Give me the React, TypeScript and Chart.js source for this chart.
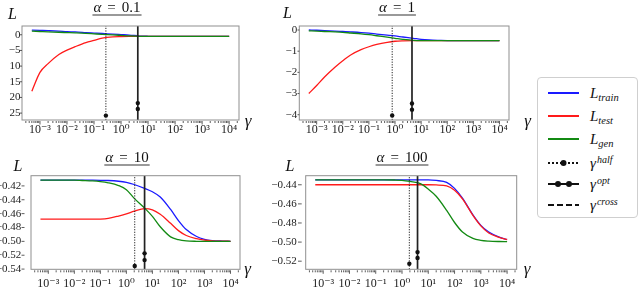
import React, { useEffect, useRef } from "react";
import { Chart, registerables } from "chart.js";
Chart.register(...registerables);

// ---------- data ----------
const gammas = [5e-4, 1e-3, 2e-3, 5e-3, 1e-2, 2e-2, 5e-2, 0.1, 0.2, 0.5, 1, 2, 5, 10, 20, 50, 100, 200, 500, 1000, 2000, 5000, 10000];

const train1 = [1.5, 1.4, 1.3, 1.15, 1.0, 0.9, 0.7, 0.55, 0.4, 0.2, 0.05, -0.1, -0.4, -0.48, -0.5, -0.5, -0.5, -0.5, -0.5, -0.5, -0.5, -0.5, -0.5];
const test1 = [-18.0, -12.0, -9.2, -6.3, -4.9, -3.8, -2.5, -1.8, -1.1, -0.7, -0.6, -0.54, -0.51, -0.5, -0.5, -0.5, -0.5, -0.5, -0.5, -0.5, -0.5, -0.5, -0.5];
const gen1 = [1.15, 1.05, 0.95, 0.8, 0.7, 0.6, 0.45, 0.3, 0.15, -0.05, -0.2, -0.35, -0.48, -0.5, -0.5, -0.5, -0.5, -0.5, -0.5, -0.5, -0.5, -0.5, -0.5];

const train2 = [0.0, -0.01, -0.03, -0.05, -0.07, -0.09, -0.12, -0.15, -0.19, -0.24, -0.28, -0.33, -0.39, -0.44, -0.47, -0.49, -0.5, -0.5, -0.5, -0.5, -0.5, -0.5, -0.5];
const test2 = [-3.0, -2.62, -2.22, -1.76, -1.45, -1.18, -0.93, -0.79, -0.68, -0.58, -0.53, -0.51, -0.5, -0.5, -0.5, -0.5, -0.5, -0.5, -0.5, -0.5, -0.5, -0.5, -0.5];
const gen2 = [-0.04, -0.05, -0.07, -0.09, -0.11, -0.14, -0.18, -0.22, -0.27, -0.34, -0.39, -0.44, -0.49, -0.5, -0.5, -0.5, -0.5, -0.5, -0.5, -0.5, -0.5, -0.5, -0.5];

const train3 = [-0.4118, -0.4118, -0.4118, -0.4118, -0.4118, -0.4118, -0.4118, -0.4119, -0.4122, -0.4133, -0.415, -0.418, -0.4235, -0.4285, -0.436, -0.454, -0.47, -0.483, -0.493, -0.497, -0.4988, -0.4996, -0.4999];
const test3 = [-0.468, -0.468, -0.468, -0.468, -0.468, -0.468, -0.468, -0.4678, -0.4668, -0.4635, -0.4605, -0.4565, -0.4528, -0.4545, -0.461, -0.474, -0.4845, -0.4915, -0.4962, -0.4982, -0.4992, -0.4997, -0.4999];
const gen3 = [-0.4118, -0.4118, -0.4118, -0.4118, -0.4118, -0.4122, -0.4128, -0.4138, -0.4155, -0.4195, -0.4255, -0.438, -0.452, -0.464, -0.479, -0.4935, -0.4975, -0.4993, -0.4999, -0.5, -0.5, -0.5, -0.5];

const train4 = [-0.4349, -0.4349, -0.4349, -0.4349, -0.4349, -0.4349, -0.4349, -0.4349, -0.4349, -0.4349, -0.4349, -0.4349, -0.4349, -0.4349, -0.4355, -0.4375, -0.4438, -0.454, -0.4715, -0.4825, -0.4895, -0.4948, -0.4973];
const test4 = [-0.44, -0.44, -0.44, -0.44, -0.44, -0.44, -0.44, -0.44, -0.44, -0.44, -0.44, -0.44, -0.44, -0.44, -0.4402, -0.4412, -0.4458, -0.4548, -0.472, -0.483, -0.4905, -0.495, -0.4973];
const gen4 = [-0.4349, -0.4349, -0.4349, -0.4349, -0.4349, -0.4349, -0.4349, -0.4349, -0.4349, -0.435, -0.4353, -0.4365, -0.4388, -0.4445, -0.452, -0.4668, -0.4795, -0.4895, -0.4962, -0.4982, -0.499, -0.4994, -0.4995];

const alphaLabels = ["0.1", "1", "10", "100"];
const halfGamma = [0.275, 0.78, 2.09, 1.9];
const halfDot = [-25.8, -4.04, -0.5355, -0.5227];
const optGamma = [4.17, 4.47, 5.0, 3.9];
const optDotHi = [-21.8, -3.47, -0.5173, -0.5105];
const optDotLo = [-23.7, -3.76, -0.527, -0.5166];

const yMins = [-27.2, -4.25, -0.5403, -0.5285];
const yMaxs = [2.8, 0.19, -0.4053, -0.4305];
const yTicks1 = [0, -5, -10, -15, -20, -25];
const yLabels1 = ["0", "\u22125", "10", "15", "20", "25"];
const yTicks2 = [0, -1, -2, -3, -4];
const yLabels2 = ["0", "\u22121", "\u22122", "\u22123", "\u22124"];
const yTicks3 = [-0.42, -0.44, -0.46, -0.48, -0.5, -0.52, -0.54];
const yLabels3 = ["\u22120.42", "\u22120.44", "\u22120.46", "\u22120.48", "\u22120.50", "\u22120.52", "\u22120.54"];
const yTicks4 = [-0.44, -0.46, -0.48, -0.5, -0.52];
const yLabels4 = ["\u22120.44", "\u22120.46", "\u22120.48", "\u22120.50", "\u22120.52"];

const xTickValues = [1e-3, 1e-2, 1e-1, 1, 10, 100, 1000, 10000];
const xTickLabels = ["10\u207B\u00B3", "10\u207B\u00B2", "10\u207B\u00B9", "10\u2070", "10\u00B9", "10\u00B2", "10\u00B3", "10\u2074"];
const xMin = 2.163e-4;
const xMax = 23174;

// ---------- layout ----------
const W = 640;
const H = 308;
const SERIF = "'Liberation Serif', 'DejaVu Serif', serif";

type Panel = {
  train: number[]; test: number[]; gen: number[];
  yTicks: number[]; yLabels: string[];
  box: [number, number, number, number];
  labelRight: number; tick: [number, number];
  xPad: number;
  title: [number, number]; underY: number;
  lPos: [number, number]; gPos: [number, number];
};

const panels: Panel[] = [
  { train: train1, test: test1, gen: gen1, yTicks: yTicks1, yLabels: yLabels1,
    box: [22, 26, 239, 120], labelRight: 20.5, tick: [19.5, 22], xPad: 3,
    title: [117, 8], underY: 15, lPos: [12.5, 15], gPos: [248, 121.5] },
  { train: train2, test: test2, gen: gen2, yTicks: yTicks2, yLabels: yLabels2,
    box: [299.3, 26, 509, 120], labelRight: 297.3, tick: [297.5, 299.3], xPad: 3,
    title: [397, 8], underY: 15, lPos: [287.5, 14], gPos: [527.5, 122] },
  { train: train3, test: test3, gen: gen3, yTicks: yTicks3, yLabels: yLabels3,
    box: [31, 175.7, 240, 269.3], labelRight: 21.3, tick: [21.5, 24.5], xPad: 7,
    title: [127, 158], underY: 165, lPos: [18, 167], gPos: [247.5, 270] },
  { train: train4, test: test4, gen: gen4, yTicks: yTicks4, yLabels: yLabels4,
    box: [305.7, 175.7, 516.7, 269.3], labelRight: 296.7, tick: [298, 301.7], xPad: 7,
    title: [402, 158], underY: 165, lPos: [290, 167], gPos: [527, 270] },
];

function drawTitle(ctx: CanvasRenderingContext2D, cx: number, cy: number, uy: number, value: string) {
  const fi = `italic 15px ${SERIF}`;
  const fr = `15px ${SERIF}`;
  const parts = [{ t: "\u03B1", f: fi }, { t: "=", f: fr }, { t: value, f: fr }];
  const gap = 6;
  const ws = parts.map((p) => { ctx.font = p.f; return ctx.measureText(p.t).width; });
  const total = ws.reduce((a, b) => a + b, 0) + gap * 2;
  let x = cx - total / 2;
  ctx.fillStyle = "#111";
  ctx.textBaseline = "middle";
  ctx.textAlign = "left";
  parts.forEach((p, i) => {
    ctx.font = p.f;
    ctx.fillText(p.t, x, cy);
    x += ws[i] + gap;
  });
  ctx.strokeStyle = "#777";
  ctx.lineWidth = 1.6;
  ctx.beginPath();
  ctx.moveTo(cx - total / 2 - 1, uy);
  ctx.lineTo(cx + total / 2 + 1, uy);
  ctx.stroke();
}

function makeConfig(p: Panel, i: number): any {
  const yw = Math.min(p.box[0], 40);
  const xh = 26;
  const yMin = yMins[i];
  const yMax = yMaxs[i];
  const decor = {
    id: "decor" + i,
    afterDatasetsDraw(chart: any) {
      const ctx: CanvasRenderingContext2D = chart.ctx;
      const a = chart.chartArea;
      const xs = chart.scales.x;
      const ys = chart.scales.y;
      ctx.save();
      ctx.strokeStyle = "#8f8f8f";
      ctx.lineWidth = 1;
      ctx.strokeRect(a.left, a.top, a.right - a.left, a.bottom - a.top);
      // y ticks
      ctx.strokeStyle = "#333";
      ctx.lineWidth = 0.8;
      p.yTicks.forEach((v) => {
        const py = ys.getPixelForValue(v);
        ctx.beginPath();
        ctx.moveTo(p.tick[0], py);
        ctx.lineTo(p.tick[1], py);
        ctx.stroke();
      });
      // x ticks (major + minor)
      for (let k = -4; k <= 4; k++) {
        for (let m = 1; m <= 9; m++) {
          const v = m * Math.pow(10, k);
          if (v < xMin || v > xMax) continue;
          const px = xs.getPixelForValue(v);
          ctx.beginPath();
          ctx.moveTo(px, a.bottom + 1);
          ctx.lineTo(px, a.bottom + (m === 1 ? 4.5 : 3));
          ctx.stroke();
        }
      }
      ctx.restore();
    },
    afterDraw(chart: any) {
      const ctx: CanvasRenderingContext2D = chart.ctx;
      ctx.save();
      drawTitle(ctx, p.title[0], p.title[1], p.underY, alphaLabels[i]);
      ctx.fillStyle = "#111";
      ctx.textAlign = "center";
      ctx.textBaseline = "middle";
      ctx.font = `italic 16px ${SERIF}`;
      ctx.fillText("L", p.lPos[0], p.lPos[1]);
      ctx.font = `italic 17px ${SERIF}`;
      ctx.fillText("\u03B3", p.gPos[0], p.gPos[1]);
      ctx.restore();
    },
  };
  const curve = (vals: number[], color: string) => ({
    data: gammas.map((g, j) => ({ x: g, y: vals[j] })),
    showLine: true, borderColor: color, borderWidth: 1.3, pointRadius: 0,
    cubicInterpolationMode: "monotone", fill: false,
  });
  return {
    type: "scatter",
    data: {
      datasets: [
        { data: [{ x: halfGamma[i], y: halfDot[i] }], pointRadius: 2.2, backgroundColor: "#111", borderWidth: 0 },
        { data: [{ x: optGamma[i], y: optDotHi[i] }, { x: optGamma[i], y: optDotLo[i] }], pointRadius: 2.2, backgroundColor: "#111", borderWidth: 0 },
        { data: [{ x: halfGamma[i], y: yMin }, { x: halfGamma[i], y: yMax }], showLine: true, borderColor: "#222", borderWidth: 1, borderDash: [1.2, 1.4], pointRadius: 0, tension: 0 },
        { data: [{ x: optGamma[i], y: yMin }, { x: optGamma[i], y: yMax }], showLine: true, borderColor: "#222", borderWidth: 1.7, pointRadius: 0, tension: 0 },
        curve(p.gen, "#138a13"),
        curve(p.test, "#ff1a1a"),
        curve(p.train, "#1a1aff"),
      ],
    },
    options: {
      animation: false,
      responsive: false,
      devicePixelRatio: 1,
      events: [],
      layout: {
        padding: { left: p.box[0] - yw, top: p.box[1], right: W - p.box[2], bottom: H - p.box[3] - xh },
      },
      plugins: { legend: { display: false }, tooltip: { enabled: false }, title: { display: false } },
      scales: {
        x: {
          type: "logarithmic", min: xMin, max: xMax,
          grid: { display: false, drawTicks: false }, border: { display: false },
          ticks: {
            autoSkip: false, maxRotation: 0, minRotation: 0, padding: p.xPad,
            font: { family: SERIF, size: 12 }, color: "#222",
            callback: (_v: any, idx: number) => xTickLabels[idx],
          },
          afterBuildTicks: (s: any) => { s.ticks = xTickValues.map((v) => ({ value: v })); },
          afterFit: (s: any) => { s.height = xh; },
        },
        y: {
          type: "linear", min: yMin, max: yMax,
          grid: { display: false, drawTicks: false }, border: { display: false },
          ticks: {
            autoSkip: false, padding: p.box[0] - p.labelRight,
            font: { family: SERIF, size: 11 }, color: "#222",
            callback: (_v: any, idx: number) => p.yLabels[idx],
          },
          afterBuildTicks: (s: any) => { s.ticks = p.yTicks.map((v) => ({ value: v })); },
          afterFit: (s: any) => { s.width = yw; },
        },
      },
    },
    plugins: [decor],
  };
}

function PanelCanvas({ idx }: { idx: number }) {
  const ref = useRef<HTMLCanvasElement>(null);
  useEffect(() => {
    if (!ref.current) return;
    const chart = new Chart(ref.current, makeConfig(panels[idx], idx));
    return () => chart.destroy();
  }, [idx]);
  return <canvas ref={ref} width={W} height={H} style={{ position: "absolute", left: 0, top: 0, width: W, height: H }} />;
}

const legendItems = [
  { kind: "line", color: "#1a1aff", main: "L", sub: "train" },
  { kind: "line", color: "#ff1a1a", main: "L", sub: "test" },
  { kind: "line", color: "#138a13", main: "L", sub: "gen" },
  { kind: "dotted", color: "#111", main: "\u03B3", sup: "half" },
  { kind: "solid2", color: "#111", main: "\u03B3", sup: "opt" },
  { kind: "dashed", color: "#111", main: "\u03B3", sup: "cross" },
];
const legendRows = [15.7, 38.7, 62, 86.3, 107.3, 128];

function LegendSample({ kind, color }: { kind: string; color: string }) {
  return (
    <svg width={34} height={10} style={{ position: "absolute", left: 9, top: -5 }}>
      {kind === "line" && <line x1={1} y1={5} x2={32} y2={5} stroke={color} strokeWidth={2} />}
      {kind === "dotted" && (
        <>
          <line x1={1} y1={5} x2={32} y2={5} stroke={color} strokeWidth={2.2} strokeDasharray="2 2" />
          <circle cx={16.5} cy={5} r={3} fill={color} />
        </>
      )}
      {kind === "solid2" && (
        <>
          <line x1={1} y1={5} x2={32} y2={5} stroke={color} strokeWidth={2} />
          <circle cx={11} cy={5} r={3} fill={color} />
          <circle cx={22} cy={5} r={3} fill={color} />
        </>
      )}
      {kind === "dashed" && <line x1={1} y1={5} x2={32} y2={5} stroke={color} strokeWidth={2.2} strokeDasharray="6 3" />}
    </svg>
  );
}

function Legend() {
  return (
    <div style={{ position: "absolute", left: 537, top: 77, width: 101, height: 141, boxSizing: "border-box", border: "1px solid #cfcfcf", borderRadius: 4, background: "#fff" }}>
      {legendItems.map((it, i) => (
        <div key={i} style={{ position: "absolute", left: 0, top: legendRows[i] - 1, width: 100, height: 0 }}>
          <LegendSample kind={it.kind} color={it.color} />
          <div style={{ position: "absolute", left: 52, top: -10, height: 20, lineHeight: "20px", whiteSpace: "nowrap", fontFamily: SERIF, fontStyle: "italic", color: "#111" }}>
            <span style={{ fontSize: 15 }}>{it.main}</span>
            {it.sub && <span style={{ fontSize: 10.5, position: "relative", top: 3 }}>{it.sub}</span>}
            {it.sup && <span style={{ fontSize: 10, position: "relative", top: -5, marginLeft: 1 }}>{it.sup}</span>}
          </div>
        </div>
      ))}
    </div>
  );
}

export default function App() {
  return (
    <div style={{ position: "absolute", left: 0, top: 0, width: W, height: H, background: "#fff", overflow: "hidden" }}>
      {panels.map((_, i) => <PanelCanvas key={i} idx={i} />)}
      <Legend />
    </div>
  );
}
